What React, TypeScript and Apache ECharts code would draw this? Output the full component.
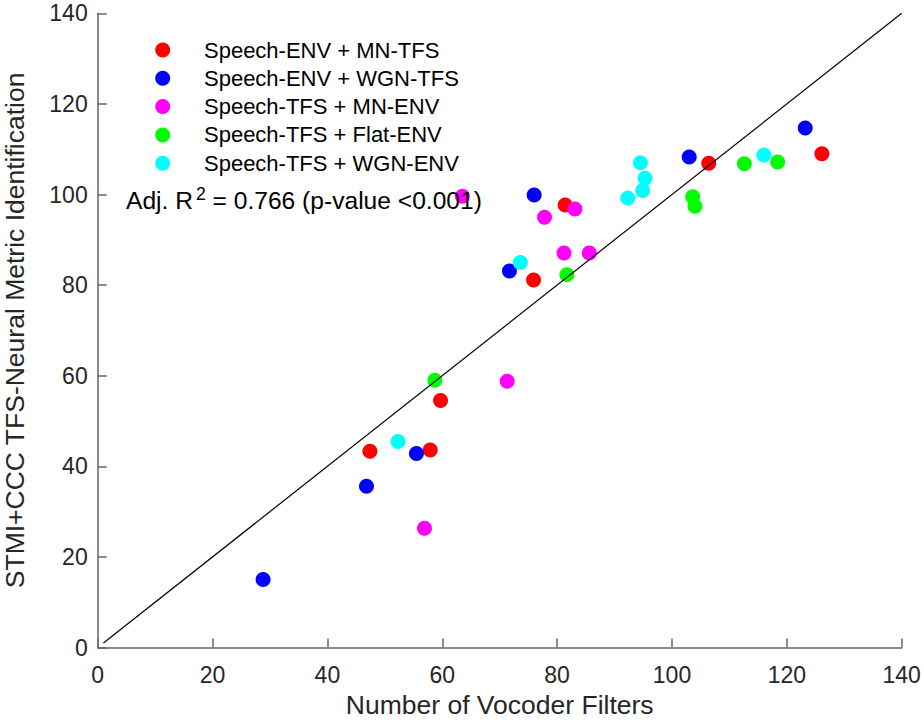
import React, { useEffect, useRef } from "react";
import * as echarts from "echarts";

// ---- data ----
const seriesNames = [
  "Speech-ENV + MN-TFS",
  "Speech-ENV + WGN-TFS",
  "Speech-TFS + MN-ENV",
  "Speech-TFS + Flat-ENV",
  "Speech-TFS + WGN-ENV",
];
const seriesColors = ["#ff0000", "#0000ff", "#ff00ff", "#00ff00", "#00ffff"];

const envMnTfsX = [47.4, 57.9, 59.7, 75.9, 81.4, 106.4, 126.1];
const envMnTfsY = [43.3, 43.6, 54.5, 81.1, 97.7, 106.9, 109.0];

const envWgnTfsX = [28.8, 46.8, 55.5, 71.7, 76.0, 103.0, 123.2];
const envWgnTfsY = [15.0, 35.6, 42.8, 83.1, 99.9, 108.3, 114.7];

const tfsMnEnvX = [56.9, 71.3, 63.5, 77.8, 81.2, 83.1, 85.6];
const tfsMnEnvY = [26.3, 58.8, 99.6, 95.0, 87.1, 96.8, 87.1];

const tfsFlatEnvX = [58.7, 81.7, 103.6, 104.0, 112.6, 118.4];
const tfsFlatEnvY = [59.0, 82.3, 99.5, 97.4, 106.8, 107.2];

const tfsWgnEnvX = [52.3, 73.6, 92.3, 94.5, 94.9, 95.3, 116.0];
const tfsWgnEnvY = [45.5, 85.0, 99.2, 107.0, 100.9, 103.6, 108.7];

const identityX = [1, 140];
const identityY = [1, 140];

const axisMin = 0;
const axisMax = 140;
const axisStep = 20;

const xAxisTitle = "Number of Vocoder Filters";
const yAxisTitle = "STMI+CCC TFS-Neural Metric Identification";
const statsPrefix = "Adj. R";
const statsSup = "2";
const statsSuffix = " = 0.766 (p-value <0.001)";

const FONT = "'Liberation Sans', Arial, Helvetica, sans-serif";

const zip = (xs: number[], ys: number[]) => xs.map((x, i) => [x, ys[i]]);

export default function App() {
  const ref = useRef<HTMLDivElement>(null);

  useEffect(() => {
    if (!ref.current) return;
    const chart = echarts.init(ref.current, undefined, { renderer: "svg" });

    const groups = [
      zip(envMnTfsX, envMnTfsY),
      zip(envWgnTfsX, envWgnTfsY),
      zip(tfsMnEnvX, tfsMnEnvY),
      zip(tfsFlatEnvX, tfsFlatEnvY),
      zip(tfsWgnEnvX, tfsWgnEnvY),
    ];

    const axisColor = "#666666";
    const tickLabelColor = "#262626";

    const scatterSeries = groups.map((data, i) => ({
      name: seriesNames[i],
      type: "scatter",
      data,
      symbol: "circle",
      symbolSize: 15,
      itemStyle: { color: seriesColors[i], opacity: 1 },
      z: 2,
    }));

    const option: any = {
      animation: false,
      backgroundColor: "#ffffff",
      grid: {
        left: 97.7,
        right: 22.3,
        top: 13.3,
        bottom: 75.5,
        containLabel: false,
        outerBoundsMode: "none",
      },
      legend: {
        data: seriesNames,
        orient: "vertical",
        left: 155.2,
        top: 36,
        padding: 0,
        itemGap: 0.3,
        itemWidth: 72.6,
        itemHeight: 15,
        icon: "circle",
        selectedMode: false,
        textStyle: { fontFamily: FONT, fontSize: 22, color: "#000000", lineHeight: 28 },
      },
      xAxis: {
        type: "value",
        min: axisMin,
        max: axisMax,
        interval: axisStep,
        name: xAxisTitle,
        nameLocation: "middle",
        nameGap: 39,
        nameTextStyle: { fontFamily: FONT, fontSize: 26.5, color: tickLabelColor },
        splitLine: { show: false },
        axisLine: { show: true, onZero: false, lineStyle: { color: axisColor, width: 1.5 } },
        axisTick: { show: true, inside: true, length: 9, lineStyle: { color: axisColor, width: 1.5 } },
        axisLabel: { fontFamily: FONT, fontSize: 23, color: tickLabelColor, margin: 16 },
      },
      yAxis: {
        type: "value",
        min: axisMin,
        max: axisMax,
        interval: axisStep,
        name: yAxisTitle,
        nameLocation: "middle",
        nameGap: 69,
        nameRotate: 90,
        nameTextStyle: { fontFamily: FONT, fontSize: 26.5, color: tickLabelColor },
        splitLine: { show: false },
        axisLine: { show: true, onZero: false, lineStyle: { color: axisColor, width: 1.5 } },
        axisTick: { show: true, inside: true, length: 9, lineStyle: { color: axisColor, width: 1.5 } },
        axisLabel: { fontFamily: FONT, fontSize: 23, color: tickLabelColor, margin: 10 },
      },
      series: [
        ...scatterSeries,
        {
          name: "identity",
          type: "line",
          data: zip(identityX, identityY),
          showSymbol: false,
          symbol: "none",
          lineStyle: { color: "#000000", width: 1.2 },
          silent: true,
          z: 5,
        },
      ],
      graphic: [
        {
          type: "text",
          left: 126,
          top: 185,
          z: 100,
          style: {
            text: `{m|${statsPrefix}}{s|${statsSup}}{m|${statsSuffix}}`,
            fill: "#000000",
            rich: {
              m: { fontFamily: FONT, fontSize: 24.6, lineHeight: 30, fill: "#000000" },
              s: {
                fontFamily: FONT,
                fontSize: 17.5,
                lineHeight: 17,
                verticalAlign: "top",
                padding: [0, 0, 0, 3],
                fill: "#000000",
              },
            },
          },
        },
      ],
    };

    chart.setOption(option);
    return () => chart.dispose();
  }, []);

  return (
    <div
      ref={ref}
      style={{ position: "fixed", left: 0, top: 0, width: 924, height: 723, background: "#fff" }}
    />
  );
}
